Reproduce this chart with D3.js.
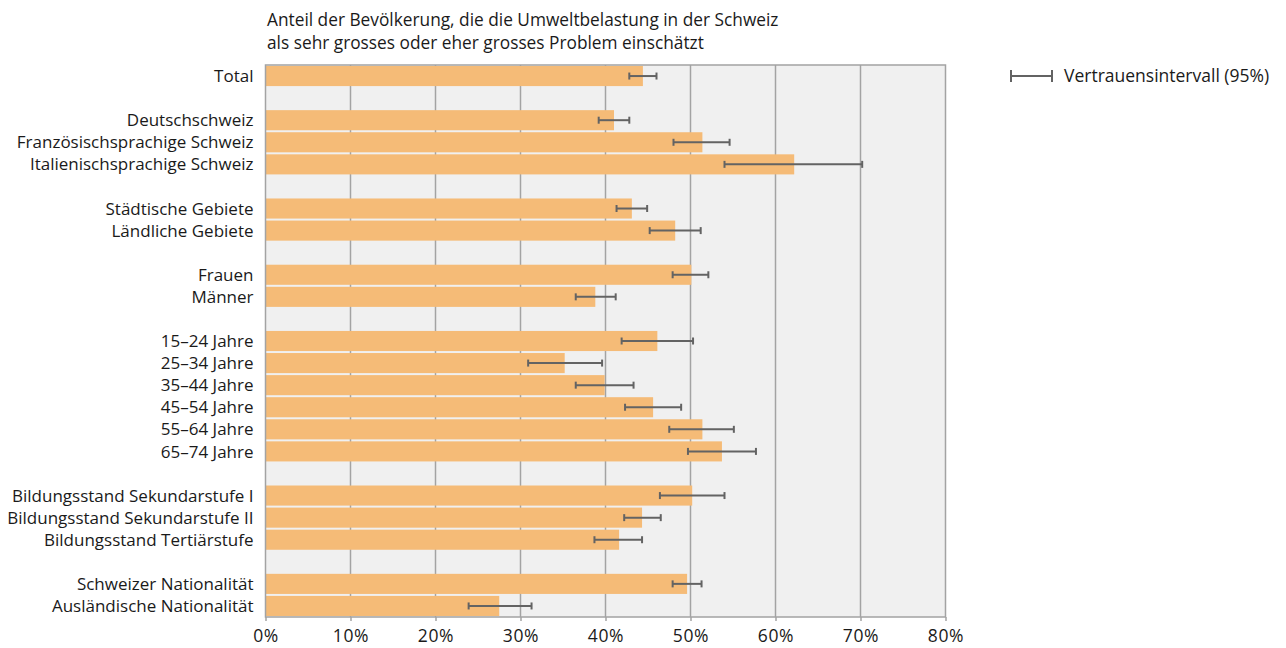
<!DOCTYPE html>
<html><head><meta charset="utf-8">
<script src="https://cdn.jsdelivr.net/npm/d3@7"></script>
<style>body{margin:0;background:#fff;} svg{display:block;font-family:"Open Sans",sans-serif;}</style>
</head><body>
<svg id="chart" width="1286" height="648"></svg>
<script>
const categories = ["Total","", "Deutschschweiz","Französischsprachige Schweiz","Italienischsprachige Schweiz","",
 "Städtische Gebiete","Ländliche Gebiete","", "Frauen","Männer","",
 "15–24 Jahre","25–34 Jahre","35–44 Jahre","45–54 Jahre","55–64 Jahre","65–74 Jahre","",
 "Bildungsstand Sekundarstufe I","Bildungsstand Sekundarstufe II","Bildungsstand Tertiärstufe","",
 "Schweizer Nationalität","Ausländische Nationalität"];
const values = [44.4,null, 41.0,51.4,62.2,null, 43.1,48.2,null, 50.1,38.8,null,
 46.1,35.2,39.9,45.6,51.4,53.7,null, 50.2,44.3,41.6,null, 49.6,27.5];
const ciLow = [42.8,null, 39.2,48.0,54.0,null, 41.3,45.2,null, 47.9,36.5,null,
 41.9,30.9,36.5,42.3,47.5,49.7,null, 46.4,42.2,38.7,null, 47.9,23.9];
const ciHigh = [46.0,null, 42.8,54.6,70.2,null, 44.9,51.2,null, 52.1,41.2,null,
 50.3,39.6,43.3,48.9,55.1,57.7,null, 54.0,46.5,44.3,null, 51.3,31.3];
const xTicks = [0,10,20,30,40,50,60,70,80];
const titleLines = ["Anteil der Bevölkerung, die die Umweltbelastung in der Schweiz","als sehr grosses oder eher grosses Problem einschätzt"];
const legendLabel = "Vertrauensintervall (95%)";

const svg = d3.select("#chart");
const L = 265.5, R = 945.5, T = 65, B = 617;
const x = d3.scaleLinear().domain([0,80]).range([L,R]);
const y = d3.scaleBand().domain(d3.range(categories.length)).range([T,B]).paddingInner(0.09).paddingOuter(0.045);

svg.append("rect").attr("x",L).attr("y",T).attr("width",R-L).attr("height",B-T).attr("fill","#f0f0f0");

svg.append("g").selectAll("line").data(xTicks.slice(1,-1)).join("line")
  .attr("x1",d=>x(d)).attr("x2",d=>x(d)).attr("y1",T).attr("y2",B)
  .attr("stroke","#a3a3a3").attr("stroke-width",1.5);

const rows = categories.map((c,i)=>({c,i,v:values[i],lo:ciLow[i],hi:ciHigh[i]})).filter(d=>d.v!=null);

svg.append("g").selectAll("rect").data(rows).join("rect")
  .attr("x",x(0)).attr("y",d=>y(d.i)).attr("width",d=>x(d.v)-x(0)).attr("height",y.bandwidth())
  .attr("fill","#f5bb77");

svg.append("rect").attr("x",L).attr("y",T).attr("width",R-L).attr("height",B-T)
  .attr("fill","none").attr("stroke","#a3a3a3").attr("stroke-width",1.5);

const eb = svg.append("g").attr("stroke","#636363").attr("stroke-width",2);
rows.forEach(d=>{
  const cy = y(d.i)+y.bandwidth()/2;
  eb.append("line").attr("x1",x(d.lo)).attr("x2",x(d.hi)).attr("y1",cy).attr("y2",cy);
  eb.append("line").attr("x1",x(d.lo)).attr("x2",x(d.lo)).attr("y1",cy-3.5).attr("y2",cy+3.5);
  eb.append("line").attr("x1",x(d.hi)).attr("x2",x(d.hi)).attr("y1",cy-3.5).attr("y2",cy+3.5);
});

// category labels
svg.append("g").selectAll("text").data(rows).join("text")
  .attr("x",L-12).attr("y",d=>y(d.i)+y.bandwidth()/2).attr("dy","0.36em")
  .attr("text-anchor","end").attr("font-size",17).attr("fill","#1a1a1a").text(d=>d.c);

// x axis
const ax = svg.append("g").attr("transform",`translate(0,${B})`)
  .call(d3.axisBottom(x).tickValues(xTicks).tickFormat(d=>d+"%").tickSize(4).tickPadding(9));
ax.select(".domain").remove();
ax.selectAll("line").attr("stroke","#a3a3a3").attr("stroke-width",1.5);
ax.selectAll("text").attr("font-size",17.5).attr("fill","#1a1a1a").attr("font-family","'Open Sans',sans-serif")
  .attr("letter-spacing",0.6);

// title
svg.append("g").selectAll("text").data(titleLines).join("text")
  .attr("x",267).attr("y",(d,i)=>26+i*23).attr("font-size",17.3).attr("fill","#1a1a1a").text(d=>d);

// legend
const lg = svg.append("g").attr("stroke","#636363").attr("stroke-width",2);
const ly = 76;
lg.append("line").attr("x1",1011).attr("x2",1052).attr("y1",ly).attr("y2",ly);
lg.append("line").attr("x1",1011).attr("x2",1011).attr("y1",ly-6).attr("y2",ly+6);
lg.append("line").attr("x1",1052).attr("x2",1052).attr("y1",ly-6).attr("y2",ly+6);
svg.append("text").attr("x",1064).attr("y",ly).attr("dy","0.36em").attr("font-size",17.5).attr("fill","#1a1a1a").text(legendLabel);
</script>
</body></html>
